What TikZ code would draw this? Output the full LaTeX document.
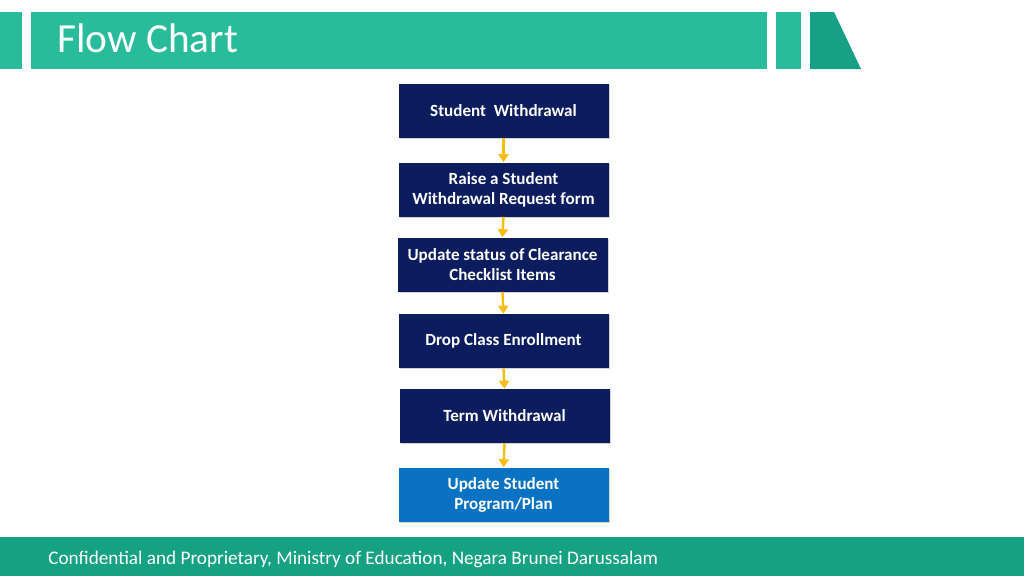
\documentclass[tikz,border=0pt]{standalone}
\usepackage{fontspec}
\setmainfont{Carlito}
\usetikzlibrary{arrows.meta,shadows}
\definecolor{barcol}{HTML}{28BC9A}
\definecolor{trapcol}{HTML}{16A085}
\definecolor{footcol}{HTML}{15A283}
\definecolor{navy}{HTML}{0B1D5E}
\definecolor{blueb}{HTML}{0A72C2}
\definecolor{arrowc}{HTML}{F7BC12}
\tikzset{
  stepbox/.style={fill=navy, text=white, minimum width=157.5pt, minimum height=40.5pt,
    align=center, font=\bfseries\fontsize{12.8}{15}\selectfont, inner sep=0pt,
    drop shadow={opacity=0.35, shadow xshift=0.8pt, shadow yshift=-0.8pt}},
  flow/.style={draw=arrowc, line width=1.8pt, -{Triangle[width=7.5pt,length=6pt]}}
}
\begin{document}
\begin{tikzpicture}[x=0.75pt,y=-0.75pt]
\useasboundingbox (0,0) rectangle (1024,576);
\fill[white] (0,0) rectangle (1024,576);
% header
\fill[barcol] (0,12) rectangle (22,69);
\fill[barcol] (31,12) rectangle (767,69);
\fill[barcol] (776,12) rectangle (801,69);
\fill[trapcol] (810,12) -- (834,12) -- (861,69) -- (810,69) -- cycle;
\node[anchor=west, text=white, font=\fontsize{31}{36}\selectfont, inner sep=0pt] (title) at (57,38) {Flow Chart};
% footer
\fill[footcol] (0,537) rectangle (1024,576);
\node[anchor=west, text=white, font=\fontsize{14.4}{17}\selectfont, inner sep=0pt] (foot) at (48,559.5) {Confidential and Proprietary, Ministry of Education, Negara Brunei Darussalam};
% boxes
\node[stepbox] (b1) at (503.5,110.5) {\raisebox{-1pt}{Student\ \ Withdrawal}};
\node[stepbox] (b2) at (503.5,189.5) {Raise a Student\\Withdrawal Request form};
\node[stepbox] (b3) at (502.5,264.5) {Update status of Clearance\\Checklist Items};
\node[stepbox] (b4) at (503.5,341) {\raisebox{-1pt}{Drop Class Enrollment}};
\node[stepbox] (b5) at (504.5,416) {\raisebox{-1pt}{Term Withdrawal}};
\node[stepbox, fill=blueb] (b6) at (503.5,494.5) {Update Student\\Program/Plan};
% arrows
\draw[flow] (b1.south) -- (b2.north);
\draw[flow] (b2.south) -- (b3.north);
\draw[flow] (b3.south) -- (b4.north);
\draw[flow] (b4.south) -- (b5.north);
\draw[flow] (b5.south) -- (b6.north);
\end{tikzpicture}
\end{document}
